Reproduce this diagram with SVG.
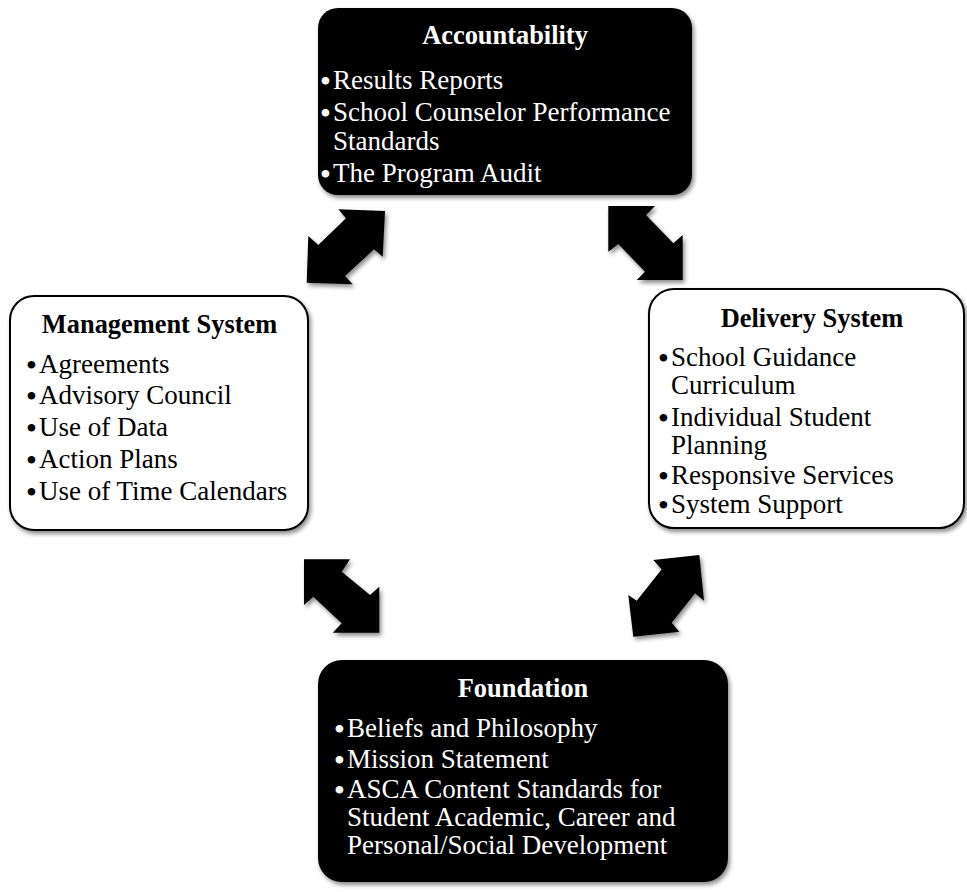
<svg xmlns="http://www.w3.org/2000/svg" width="967" height="892" viewBox="0 0 967 892">
  <defs>
    <filter id="shadow" x="-10%" y="-10%" width="130%" height="130%">
      <feDropShadow dx="2" dy="3" stdDeviation="2" flood-color="#000" flood-opacity="0.45"/>
    </filter>
  </defs>
  <style>
    text { font-family: "Liberation Serif", "Times New Roman", serif; }
    .title { font-size: 26.4px; font-weight: bold; text-anchor: middle; }
    .item { font-size: 27px; }
    .bullet { font-size: 28px; font-weight: bold; text-anchor: middle; }
    .dark rect { fill: #000; }
    .dark text { fill: #fff; }
    .light rect { fill: #fff; stroke: #000; stroke-width: 2; }
    .light text { fill: #000; }
    .arrow { fill: #000; }
  </style>

  <!-- double-headed block arrows between the four components -->
  <g id="connectors" filter="url(#shadow)">
    <polygon class="arrow" points="338.3,209.3 385,211 382.7,256.7 374,249.3 345,276 352.7,284.3 306.7,282.7 308.3,236 318.3,245 346,218.3"/>
    <polygon class="arrow" points="608.3,206 655,206 646,215 673.3,243.3 682.7,235 682.7,280 636.7,280 645,271.7 618.3,244 608.3,251.7"/>
    <polygon class="arrow" points="304,559.3 350,559.3 341.7,571.7 370,595 379.3,586.7 379.3,632.7 332.7,632.7 341.7,623.3 313.3,596.7 304,605"/>
    <polygon class="arrow" points="653.3,560 699.3,555 704,600.7 695,593.3 671.7,622.7 679.3,631.7 633.3,636.7 628.3,595 636.7,600.7 661.7,569.3"/>
  </g>

  <!-- Accountability -->
  <g id="accountability" class="dark">
    <rect x="318" y="8" width="374" height="187" rx="20" ry="20" filter="url(#shadow)"/>
    <text class="title" x="505" y="44">Accountability</text>
    <text class="bullet" x="325.5" y="90">•</text>
    <text class="item" x="333" y="89">Results Reports</text>
    <text class="bullet" x="325.5" y="122">•</text>
    <text class="item" x="333" y="121">School Counselor Performance</text>
    <text class="item" x="333" y="150">Standards</text>
    <text class="bullet" x="325.5" y="183">•</text>
    <text class="item" x="333" y="182">The Program Audit</text>
  </g>

  <!-- Management System -->
  <g id="management" class="light">
    <rect x="10" y="296" width="298" height="234" rx="24" ry="24" filter="url(#shadow)"/>
    <text class="title" x="159.5" y="333">Management System</text>
    <text class="bullet" x="31.5" y="374">•</text>
    <text class="item" x="39" y="373">Agreements</text>
    <text class="bullet" x="31.5" y="405">•</text>
    <text class="item" x="39" y="404">Advisory Council</text>
    <text class="bullet" x="31.5" y="437">•</text>
    <text class="item" x="39" y="436">Use of Data</text>
    <text class="bullet" x="31.5" y="469">•</text>
    <text class="item" x="39" y="468">Action Plans</text>
    <text class="bullet" x="31.5" y="501">•</text>
    <text class="item" x="39" y="500">Use of Time Calendars</text>
  </g>

  <!-- Delivery System -->
  <g id="delivery" class="light">
    <rect x="649" y="289" width="315" height="239" rx="25" ry="25" filter="url(#shadow)"/>
    <text class="title" x="812" y="327">Delivery System</text>
    <text class="bullet" x="663.5" y="367">•</text>
    <text class="item" x="671" y="366">School Guidance</text>
    <text class="item" x="671" y="394">Curriculum</text>
    <text class="bullet" x="663.5" y="427">•</text>
    <text class="item" x="671" y="426">Individual Student</text>
    <text class="item" x="671" y="454">Planning</text>
    <text class="bullet" x="663.5" y="485">•</text>
    <text class="item" x="671" y="484">Responsive Services</text>
    <text class="bullet" x="663.5" y="514">•</text>
    <text class="item" x="671" y="513">System Support</text>
  </g>

  <!-- Foundation -->
  <g id="foundation" class="dark">
    <rect x="318" y="660" width="410" height="222" rx="24" ry="24" filter="url(#shadow)"/>
    <text class="title" x="523" y="697">Foundation</text>
    <text class="bullet" x="339.5" y="738">•</text>
    <text class="item" x="347" y="737">Beliefs and Philosophy</text>
    <text class="bullet" x="339.5" y="769">•</text>
    <text class="item" x="347" y="768">Mission Statement</text>
    <text class="bullet" x="339.5" y="799">•</text>
    <text class="item" x="347" y="798">ASCA Content Standards for</text>
    <text class="item" x="347" y="826">Student Academic, Career and</text>
    <text class="item" x="347" y="854">Personal/Social Development</text>
  </g>
</svg>
